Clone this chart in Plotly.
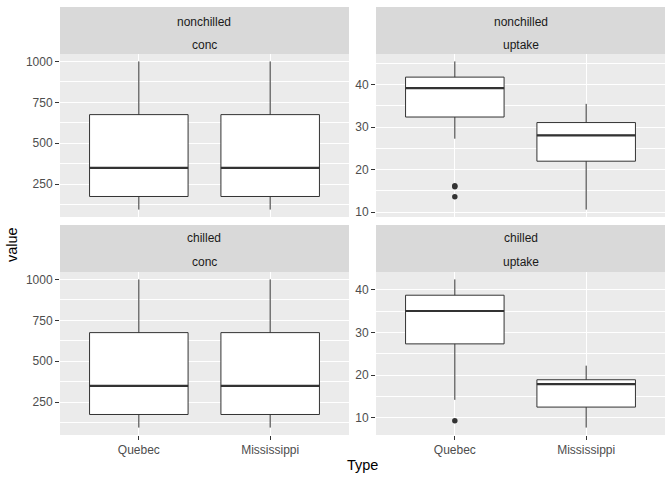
import numpy as np
import plotly.graph_objects as go

# ---- data (CO2 dataset) ----
types = ["Quebec", "Mississippi"]
treatments = ["nonchilled", "chilled"]
variables = ["conc", "uptake"]

conc_levels = [95, 175, 250, 350, 500, 675, 1000]

uptake_quebec_nonchilled = [16.0, 30.4, 34.8, 37.2, 35.3, 39.2, 39.7,
                            13.6, 27.3, 37.1, 41.8, 40.6, 41.4, 44.3,
                            16.2, 32.4, 40.3, 42.1, 42.9, 43.9, 45.5]
uptake_quebec_chilled = [14.2, 24.1, 30.3, 34.6, 32.5, 35.4, 38.7,
                         9.3, 27.3, 35.0, 38.8, 38.6, 37.5, 42.4,
                         15.1, 21.0, 38.1, 34.0, 38.9, 39.6, 41.4]
uptake_miss_nonchilled = [10.6, 19.2, 26.2, 30.0, 30.9, 32.4, 35.5,
                          12.0, 22.0, 30.6, 31.8, 32.4, 31.1, 31.5,
                          11.3, 19.4, 25.8, 27.9, 28.5, 28.1, 27.8]
uptake_miss_chilled = [10.5, 14.9, 18.1, 18.9, 19.5, 22.2, 21.9,
                       7.7, 11.4, 12.3, 13.0, 12.5, 13.7, 14.4,
                       10.6, 18.0, 17.9, 17.9, 17.9, 18.9, 19.9]

conc_group = conc_levels * 3  # three plants per Type x Treatment

data = {
    ("nonchilled", "conc"): {"Quebec": conc_group, "Mississippi": conc_group},
    ("nonchilled", "uptake"): {"Quebec": uptake_quebec_nonchilled, "Mississippi": uptake_miss_nonchilled},
    ("chilled", "conc"): {"Quebec": conc_group, "Mississippi": conc_group},
    ("chilled", "uptake"): {"Quebec": uptake_quebec_chilled, "Mississippi": uptake_miss_chilled},
}

y_ticks = {"conc": [250, 500, 750, 1000], "uptake": [10, 20, 30, 40]}
y_minor = {"conc": 125, "uptake": 5}

# ---- layout geometry (pixels) ----
W, H = 672, 480
FONT = "Liberation Sans, Arial, sans-serif"
panel_x = [(60, 349), (376, 665)]
panel_y = [(54, 217), (272, 435)]
strip_y = [(7, 54), (225, 272)]
strip_text_y = [(21.5, 44.5), (238.5, 262)]

def fx(p):
    return p / W

def fy(p):
    return 1 - p / H

fig = go.Figure()
layout = dict(
    width=W, height=H,
    margin=dict(l=0, r=0, t=0, b=0),
    paper_bgcolor="white", plot_bgcolor="#EBEBEB",
    showlegend=False,
    font=dict(family=FONT, size=12, color="#4D4D4D"),
    shapes=[], annotations=[],
)

def stats(vals):
    v = np.asarray(vals, dtype=float)
    q1, med, q3 = np.percentile(v, [25, 50, 75])
    iqr = q3 - q1
    lo_lim, hi_lim = q1 - 1.5 * iqr, q3 + 1.5 * iqr
    inside = v[(v >= lo_lim) & (v <= hi_lim)]
    out = v[(v < lo_lim) | (v > hi_lim)]
    return q1, med, q3, inside.min(), inside.max(), out

idx = 0
for r, tr in enumerate(treatments):
    for c, var in enumerate(variables):
        idx += 1
        xa = "x" if idx == 1 else f"x{idx}"
        ya = "y" if idx == 1 else f"y{idx}"
        xkey = "xaxis" if idx == 1 else f"xaxis{idx}"
        ykey = "yaxis" if idx == 1 else f"yaxis{idx}"
        groups = data[(tr, var)]
        allv = np.concatenate([np.asarray(groups[t], float) for t in types])
        lo, hi = allv.min(), allv.max()
        pad = 0.05 * (hi - lo)
        for k, t in enumerate(types):
            pos = k + 1
            q1, med, q3, lf, uf, out = stats(groups[t])
            fig.add_trace(go.Box(
                x=[pos], q1=[q1], median=[med], q3=[q3],
                lowerfence=[lf], upperfence=[uf],
                width=0.75, whiskerwidth=0,
                fillcolor="white", line=dict(color="#333333", width=1),
                boxpoints=False, xaxis=xa, yaxis=ya, hoverinfo="skip",
            ))
            fig.add_trace(go.Scatter(
                x=[pos - 0.375, pos + 0.375], y=[med, med], mode="lines",
                line=dict(color="#333333", width=2.2),
                xaxis=xa, yaxis=ya, hoverinfo="skip",
            ))
            if len(out):
                fig.add_trace(go.Scatter(
                    x=[pos] * len(out), y=list(out), mode="markers",
                    marker=dict(color="#333333", size=5.5),
                    xaxis=xa, yaxis=ya, hoverinfo="skip",
                ))
        x0, x1 = panel_x[c]
        y0, y1 = panel_y[r]
        layout[xkey] = dict(
            domain=[fx(x0), fx(x1)], anchor=ya, range=[0.4, 2.6],
            tickmode="array", tickvals=[1, 2], ticktext=types,
            showticklabels=(r == 1), ticks="outside" if r == 1 else "",
            ticklen=4, tickwidth=1, tickcolor="#333333",
            tickfont=dict(size=12, color="#4D4D4D", family=FONT),
            showgrid=True, gridcolor="white", gridwidth=1.1,
            zeroline=False, showline=False, automargin=False, fixedrange=True,
        )
        layout[ykey] = dict(
            domain=[fy(y1), fy(y0)], anchor=xa, range=[lo - pad, hi + pad],
            tickmode="array", tickvals=y_ticks[var],
            ticks="outside", ticklen=4, tickwidth=1, tickcolor="#333333",
            tickfont=dict(size=12, color="#4D4D4D", family=FONT),
            showgrid=True, gridcolor="white", gridwidth=1.1,
            minor=dict(dtick=y_minor[var], tick0=0, showgrid=True,
                       gridcolor="white", gridwidth=0.55, ticks=""),
            zeroline=False, showline=False, automargin=False, fixedrange=True,
        )
        # strip
        s0, s1 = strip_y[r]
        layout["shapes"].append(dict(
            type="rect", xref="paper", yref="paper",
            x0=fx(x0), x1=fx(x1), y0=fy(s1), y1=fy(s0),
            fillcolor="#D9D9D9", line=dict(width=0), layer="below",
        ))
        for txt, yy in zip([tr, var], strip_text_y[r]):
            layout["annotations"].append(dict(
                text=txt, xref="paper", yref="paper",
                x=fx((x0 + x1) / 2), y=fy(yy), xanchor="center", yanchor="middle",
                showarrow=False, font=dict(size=12, color="#1A1A1A", family=FONT),
            ))

layout["annotations"].append(dict(
    text="value", xref="paper", yref="paper", x=fx(12), y=fy(245),
    xanchor="center", yanchor="middle", textangle=-90, showarrow=False,
    font=dict(size=14.5, color="black", family=FONT),
))
layout["annotations"].append(dict(
    text="Type", xref="paper", yref="paper", x=fx(362.5), y=fy(465),
    xanchor="center", yanchor="middle", showarrow=False,
    font=dict(size=14.5, color="black", family=FONT),
))

fig.update_layout(**layout)
fig.write_html("out.html")
